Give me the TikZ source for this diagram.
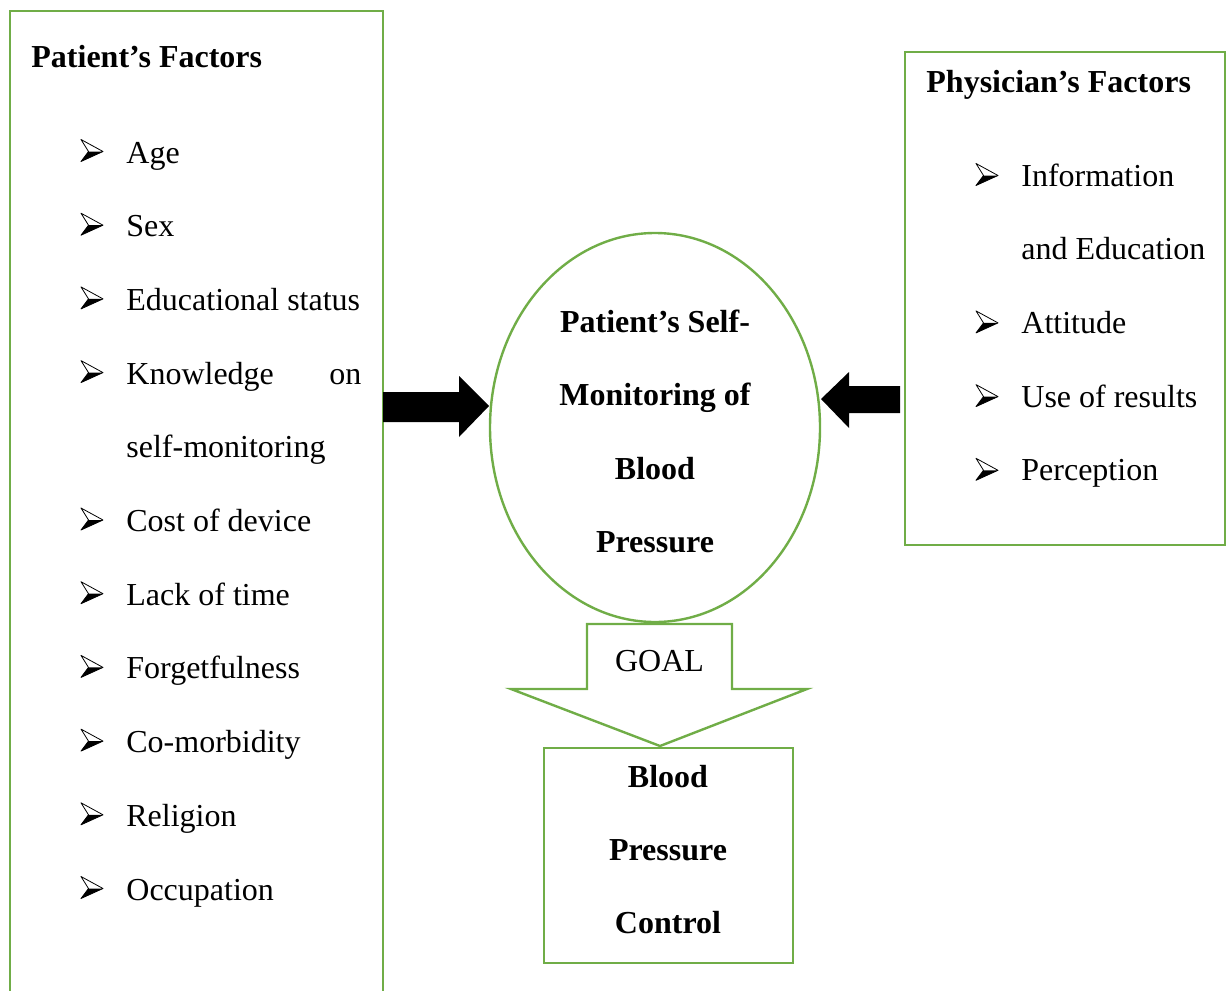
\documentclass[tikz,border=0pt]{standalone}
\usepackage{fontspec}
\setmainfont{Liberation Serif}
\definecolor{boxgreen}{HTML}{70AD47}
\usetikzlibrary{shapes.geometric, calc}

\begin{document}
\begin{tikzpicture}[x=0.5pt, y=-0.5pt,
	greenline/.style={draw=boxgreen, line width=1.2pt},
	itemtext/.style={anchor=base west, inner sep=0pt, font=\fontsize{16}{19}\selectfont},
	headtext/.style={anchor=base west, inner sep=0pt, font=\fontsize{16}{19}\selectfont\bfseries},
	midtext/.style={anchor=base, inner sep=0pt, font=\fontsize{16}{19}\selectfont\bfseries},
	bullarrow/.pic={
		\draw[line width=0.4pt, fill=white, line join=round] (0,-11) -- (22,1) -- (0,11) -- (7.5,1) -- cycle;
		\fill[black] (7.5,1) -- (22,1) -- (0,11) -- cycle;
	}]
	\clip (0,0) rectangle (1230,990);
	% cajas
	\draw[greenline] (10,1010) -- (10,11) -- (383,11) -- (383,1010);
	\node[greenline, minimum width=160pt, minimum height=246.5pt, anchor=north west, inner sep=0pt] (phbox) at (904,51) {};
	\node[greenline, ellipse, minimum width=165pt, minimum height=194.5pt, inner sep=0pt] (smbp) at (655,427.5) {};
	\node[greenline, minimum width=124.5pt, minimum height=107.5pt, anchor=north west, inner sep=0pt] (bpc) at (543,747) {};
	% titulos
	\node[headtext] (pfhead) at (31,68) {Patient’s Factors};
	\node[headtext] (phhead) at (926,92) {Physician’s Factors};
	% factores del paciente
	\foreach \k/\t in {0/Age, 1/Sex, 2/Educational status, 5/Cost of device, 6/Lack of time, 7/Forgetfulness, 8/Co-morbidity, 9/Religion, 10/Occupation} {
		\pic at (81,{150.5+73.7*\k}) {bullarrow};
		\node[itemtext] (pf\k) at (126,{163+73.7*\k}) {\t};
	}
	\pic at (81,{150.5+73.7*3}) {bullarrow};
	\node[itemtext] (pf3) at (126,{163+73.7*3}) {\hbox to 117.5pt{Knowledge\hfill on}};
	\node[itemtext] (pf4) at (126,{163+73.7*4}) {self-monitoring};
	% factores del medico
	\foreach \k/\t in {0/Information, 2/Attitude, 3/Use of results, 4/Perception} {
		\pic at (976,{174.5+73.7*\k}) {bullarrow};
		\node[itemtext] (ph\k) at (1021,{186+73.7*\k}) {\t};
	}
	\node[itemtext] (ph1) at (1021,{186+73.7}) {and Education};
	% texto central
	\foreach \t [count=\i from 0] in {Patient’s Self-, Monitoring of, Blood, Pressure}
		\node[midtext] (sm\i) at (655,{332+73.5*\i}) {\t};
	\foreach \t [count=\i from 0] in {Blood, Pressure, Control}
		\node[midtext] (bp\i) at (668,{787+73*\i}) {\t};
	% flechas negras
	\coordinate (ltail) at (383,407);
	\coordinate (rtail) at (900,399.5);
	\fill[black] ($(ltail)+(0,-15)$) -- ++(76,0) -- ++(0,-16) -- ++(30,30) -- ++(-30,31) -- ++(0,-15) -- ++(-76,0) -- cycle;
	\fill[black] ($(rtail)+(0,-13.5)$) -- ++(-51,0) -- ++(0,-14) -- ++(-28,27) -- ++(28,29) -- ++(0,-15) -- ++(51,0) -- cycle;
	% flecha GOAL
	\draw[greenline, line join=miter] (587,624) -- (732,624) -- (732,689) -- (807,689) -- (660,746) -- (511,689) -- (587,689) -- cycle;
	\node[anchor=base, inner sep=0pt, font=\fontsize{16}{19}\selectfont] (goal) at (659.5,671) {GOAL};
\end{tikzpicture}
\end{document}
